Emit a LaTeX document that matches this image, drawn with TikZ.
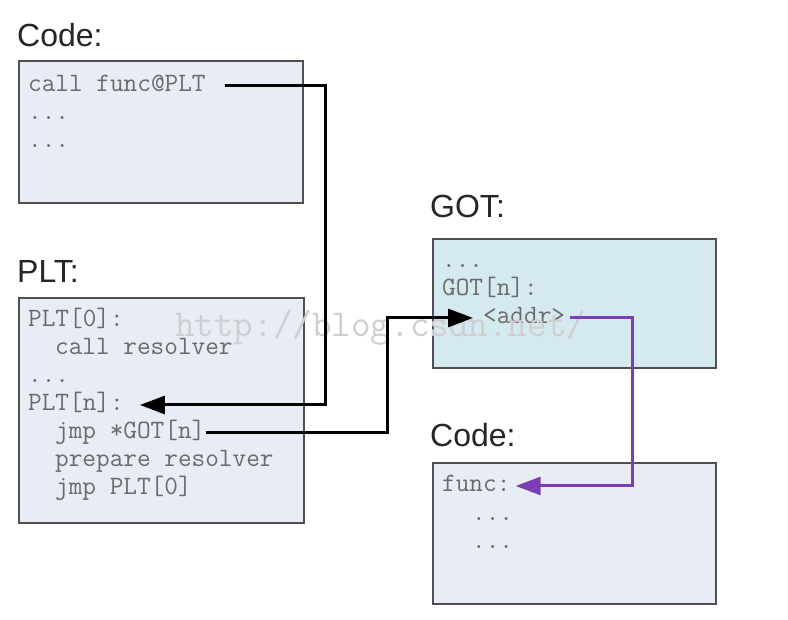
\documentclass[tikz,border=0pt]{standalone}
\usepackage{fontspec}
\setmainfont{Liberation Sans}
\usetikzlibrary{positioning,arrows.meta}
\definecolor{boxline}{HTML}{505050}
\definecolor{codefill}{HTML}{E8ECF5}
\definecolor{gotfill}{HTML}{D5E9F0}
\definecolor{codetext}{HTML}{6A6A6A}
\definecolor{callpurple}{HTML}{7B3FB3}
\definecolor{wmark}{HTML}{CFCFCF}

\begin{document}
\begin{tikzpicture}[x=1pt, y=-1pt,
    box/.style={draw=boxline, line width=2.4pt, anchor=north west, inner sep=0pt},
    heading/.style={font=\fontsize{32}{36}\selectfont, text=black!85, anchor=base west, inner sep=0pt},
    codeline/.style={font=\ttfamily\fontsize{26.5}{28}\selectfont, text=codetext, anchor=base west, inner sep=0pt, text height=15pt, text depth=3pt},
    link/.style={line width=3pt, -{Triangle[length=25pt,width=18pt]}},
  ]
  \fill[white] (0,0) rectangle (788,620);
  \useasboundingbox (0,0) rectangle (788,620);

  % boxes
  \node (code) [box, fill=codefill, minimum width=284pt, minimum height=142pt] at (18,60) {};
  \node (plt)  [box, fill=codefill, minimum width=285pt, minimum height=225pt] at (18,297) {};
  \node (got)  [box, fill=gotfill, minimum width=283pt, minimum height=129pt] at (432,238) {};
  \node (fn)   [box, fill=codefill, minimum width=283pt, minimum height=141pt] at (432,462) {};

  % headings
  \node (codetitle) [heading] at (17,47)  {Code:};
  \node (plttitle)  [heading] at (17,283) {PLT:};
  \node (gottitle)  [heading] at (430,218) {GOT:};
  \node (fntitle)   [heading] at (430,447) {Code:};

  % caller
  \node (callplt) [codeline] at (28,92)  {call func@PLT};
  \node (cdots1)  [codeline] at (28,120) {...};
  \node (cdots2)  [codeline] at (28,148) {...};

  % plt entries
  \node (plt0)    [codeline] at (28,327) {PLT[0]:};
  \node (callres) [codeline] at (55,355) {call resolver};
  \node (pdots)   [codeline] at (28,383) {...};
  \node (pltn)    [codeline] at (28,411) {PLT[n]:};
  \node (jmpgot)  [codeline] at (55,439) {jmp *GOT[n]};
  \node (prep)    [codeline] at (55,467) {prepare resolver};
  \node (jmpplt)  [codeline] at (55,495) {jmp PLT[0]};

  % got entries
  \node (gdots)   [codeline] at (442,268) {...};
  \node (gotn)    [codeline] at (442,296) {GOT[n]:};
  \node (addr)    [codeline] at (483,324) {<addr>};

  % callee
  \node (func)    [codeline] at (442,492) {func:};
  \node (fdots1)  [codeline] at (472,520) {...};
  \node (fdots2)  [codeline] at (472,548) {...};

  % watermark
  \node (wm) [font=\ttfamily\fontsize{38}{40}\selectfont, text=wmark, anchor=base west, inner sep=0pt] at (175,337) {http://blog.csdn.net/};

  % connectors
  \coordinate (busA) at (325,0);
  \coordinate (busB) at (387,0);
  \coordinate (busC) at (632,0);
  \draw[link] ([xshift=19pt]callplt.east) -| (busA |- pltn.east) -- ([xshift=16pt]pltn.east);
  \draw[link] (jmpgot.east) -| (busB |- addr.west) -- ([xshift=-10pt]addr.west);
  \draw[link, draw=callpurple] ([xshift=5pt]addr.east) -| (busC |- func.east) -- ([xshift=5pt]func.east);
\end{tikzpicture}
\end{document}
